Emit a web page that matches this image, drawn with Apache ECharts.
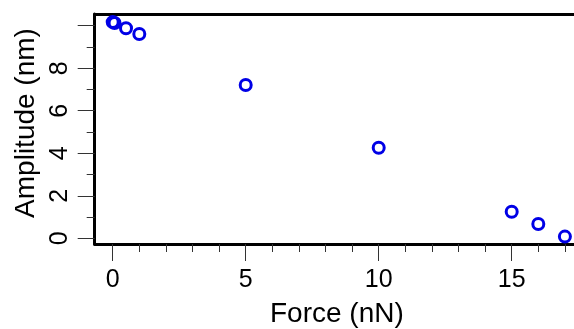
<!DOCTYPE html>
<html>
<head>
<meta charset="utf-8">
<script src="https://cdn.jsdelivr.net/npm/echarts@6/dist/echarts.min.js"></script>
<style>
  html, body { margin: 0; padding: 0; background: #fff; }
  #chart { width: 574px; height: 329px; }
</style>
</head>
<body>
<div id="chart"></div>
<script>
// force (nN) vs amplitude (nm)
const force = [0, 0.07, 0.5, 1, 5, 10, 15, 16, 17];
const amplitude = [10.17, 10.13, 9.88, 9.61, 7.21, 4.26, 1.25, 0.67, 0.08];

const xMajor = [0, 5, 10, 15];
const xMinor = [1, 2, 3, 4, 6, 7, 8, 9, 11, 12, 13, 14, 16, 17];
const yMajor = [0, 2, 4, 6, 8, 10];
const yLabels = [0, 2, 4, 6, 8];
const yMinor = [1, 3, 5, 7, 9];

const FONT = 'Liberation Sans';
const tickStyle = { color: '#333', width: 1 };
const X_MIN = -0.677, X_MAX = 17.53;
const Y_MIN = -0.268, Y_MAX = 10.55;

const chart = echarts.init(document.getElementById('chart'));
chart.setOption({
    animation: false,
    grid: {
        left: 94.7, top: 14, right: -5, bottom: 85,
        outerBoundsMode: 'none', containLabel: false
    },
    xAxis: [{
        type: 'value', min: X_MIN, max: X_MAX, position: 'bottom',
        axisLine: { show: true, onZero: false, lineStyle: { color: '#000', width: 3 } },
        axisTick: { show: true, customValues: xMinor, length: 8, lineStyle: tickStyle },
        axisLabel: { show: false },
        splitLine: { show: false },
        name: 'Force (nN)', nameLocation: 'middle', nameGap: 56,
        nameTextStyle: { fontFamily: FONT, fontSize: 28, color: '#000' }
    }, {
        type: 'value', min: X_MIN, max: X_MAX, position: 'bottom',
        axisLine: { show: false, onZero: false },
        axisTick: { show: true, customValues: xMajor, length: 17, lineStyle: tickStyle },
        axisLabel: {
            customValues: xMajor, margin: 24,
            fontFamily: FONT, fontSize: 25, color: '#000'
        },
        splitLine: { show: false }
    }, {
        // top frame line
        type: 'value', min: X_MIN, max: X_MAX, position: 'top',
        axisLine: { show: true, onZero: false, lineStyle: { color: '#000', width: 3 } },
        axisTick: { show: false },
        axisLabel: { show: false },
        splitLine: { show: false }
    }],
    yAxis: [{
        type: 'value', min: Y_MIN, max: Y_MAX, position: 'left',
        axisLine: { show: true, onZero: false, lineStyle: { color: '#000', width: 3 } },
        axisTick: { show: true, customValues: yMinor, length: 8, lineStyle: tickStyle },
        axisLabel: { show: false },
        splitLine: { show: false },
        name: 'Amplitude (nm)', nameLocation: 'middle', nameGap: 54,
        nameTextStyle: { fontFamily: FONT, fontSize: 28, color: '#000', padding: [0, 0, 0, 12] }
    }, {
        type: 'value', min: Y_MIN, max: Y_MAX, position: 'left',
        axisLine: { show: false, onZero: false },
        axisTick: { show: true, customValues: yMajor, length: 17, lineStyle: tickStyle },
        axisLabel: {
            customValues: yLabels, rotate: 90, margin: 22,
            fontFamily: FONT, fontSize: 25, color: '#000'
        },
        splitLine: { show: false }
    }],
    series: [{
        type: 'scatter',
        xAxisIndex: 0, yAxisIndex: 0,
        data: force.map((f, i) => [f, amplitude[i]]),
        symbol: 'circle', symbolSize: 11,
        itemStyle: { color: 'rgba(0,0,0,0)', borderColor: '#0000e6', borderWidth: 3, opacity: 1 }
    }]
});
</script>
</body>
</html>
